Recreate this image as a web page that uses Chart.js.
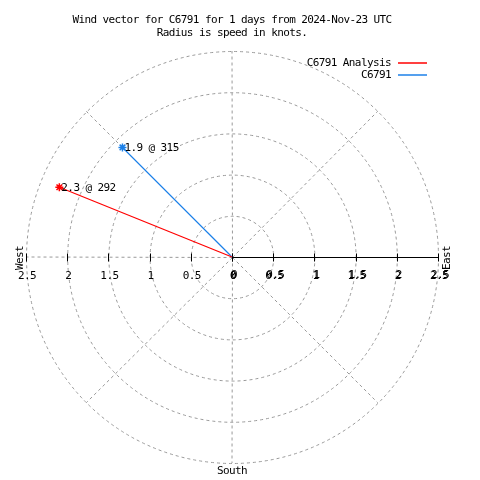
<!DOCTYPE html>
<html>
<head>
<meta charset="utf-8">
<script src="https://cdn.jsdelivr.net/npm/chart.js@4"></script>
<style>
  body { margin: 0; background: #fff; }
  #wrap { width: 480px; height: 480px; }
</style>
</head>
<body>
<div id="wrap"><canvas id="windChart" width="480" height="480"></canvas></div>
<script>
/* DATA */
const seriesNames = ["C6791 Analysis", "C6791"];
const speeds = [2.26, 1.88];        // knots (labels show 1 decimal)
const directions = [292, 315];      // degrees, clockwise from north
const radialTicks = [0, 0.5, 1, 1.5, 2, 2.5];
const titleLines = ["Wind vector for C6791 for 1 days from 2024-Nov-23 UTC", "Radius is speed in knots."];

const seriesColors = ["#ff0000", "#1c80e8"];
const FONT = "11px 'DejaVu Sans Mono', monospace";

/* polar (speed, direction) -> cartesian */
const toXY = function (r, deg) {
  const a = deg * Math.PI / 180;
  return { x: r * Math.sin(a), y: r * Math.cos(a) };
}

const rMax = radialTicks[radialTicks.length - 1];

const datasets = seriesNames.map(function (name, i) {
  return {
    label: name,
    data: [{ x: 0, y: 0 }, toXY(speeds[i], directions[i])],
    showLine: true,
    borderColor: seriesColors[i],
    backgroundColor: seriesColors[i],
    borderWidth: 1.2,
    pointStyle: 'star',
    pointRadius: [0, 4],
    pointBorderWidth: 1.5,
    pointBorderColor: seriesColors[i]
  };
});

const setFont = function (ctx) {
  ctx.font = FONT;
  ctx.letterSpacing = '-0.6px';
  ctx.fillStyle = '#000';
}

/* grid circles, spokes, axis and texts */
const polarPlugin = {
  id: 'polarPlugin',
  beforeDatasetsDraw(chart) {
    const { ctx, scales: { x, y } } = chart;
    const cx = Math.round(x.getPixelForValue(0)) + 0.5;
    const cy = Math.round(y.getPixelForValue(0)) + 0.5;
    const unit = x.getPixelForValue(1) - x.getPixelForValue(0);

    ctx.save();
    ctx.strokeStyle = '#999';
    ctx.lineWidth = 1;
    ctx.setLineDash([3, 3]);
    radialTicks.slice(1).forEach(function (r) {
      ctx.beginPath();
      ctx.arc(cx, cy, r * unit, 0, Math.PI * 2);
      ctx.stroke();
    });
    // spokes every 45 degrees (east half is the solid axis)
    [0, 45, 135, 180, 225, 270, 315].forEach(function (a) {
      const p = toXY(rMax, a);
      ctx.beginPath();
      ctx.moveTo(cx, cy);
      ctx.lineTo(x.getPixelForValue(p.x), y.getPixelForValue(p.y));
      ctx.stroke();
    });
    ctx.setLineDash([]);

    // solid east axis
    ctx.strokeStyle = '#000';
    ctx.beginPath();
    ctx.moveTo(cx, cy);
    ctx.lineTo(Math.round(x.getPixelForValue(rMax)) + 0.5, cy);
    ctx.stroke();

    // tick marks both sides
    radialTicks.forEach(function (r) {
      [r, -r].forEach(function (v) {
        const px = Math.round(x.getPixelForValue(v)) + 0.5;
        ctx.beginPath();
        ctx.moveTo(px, cy - 4);
        ctx.lineTo(px, cy + 4);
        ctx.stroke();
      });
    });

    // tick labels
    setFont(ctx);
    ctx.textAlign = 'center';
    ctx.textBaseline = 'middle';
    radialTicks.forEach(function (r) {
      const pw = x.getPixelForValue(-r);
      const pe = x.getPixelForValue(r);
      ctx.fillText(String(r), pw + 1, cy + 19);
      ctx.fillText(String(r), pe + 1, cy + 19);
      ctx.fillText(String(r), pe + 2, cy + 18);
    });
    ctx.restore();
  },
  afterDatasetsDraw(chart) {
    const { ctx, scales: { x, y } } = chart;
    const cx = x.getPixelForValue(0);
    const cy = y.getPixelForValue(0);
    ctx.save();
    setFont(ctx);
    ctx.textBaseline = 'middle';

    // titles
    ctx.textAlign = 'center';
    ctx.fillText(titleLines[0], cx, 20);
    ctx.fillText(titleLines[1], cx, 33);

    // point labels
    ctx.textAlign = 'left';
    chart.data.datasets.forEach(function (ds, i) {
      const pt = chart.getDatasetMeta(i).data[1];
      ctx.fillText(speeds[i].toFixed(1) + ' @ ' + directions[i], pt.x + 2, pt.y + 1);
    });

    // legend
    ctx.textAlign = 'right';
    seriesNames.forEach(function (name, i) {
      const ly = 63 + i * 12;
      ctx.fillText(name, 391, ly);
      ctx.strokeStyle = seriesColors[i];
      ctx.lineWidth = 1.5;
      ctx.beginPath();
      ctx.moveTo(398, ly);
      ctx.lineTo(427, ly);
      ctx.stroke();
    });

    // compass labels
    ctx.textAlign = 'center';
    ctx.fillText('South', cx, 471);
    [['West', 20], ['East', 447]].forEach(function (lab) {
      ctx.save();
      ctx.translate(lab[1], cy + 1);
      ctx.rotate(-Math.PI / 2);
      ctx.fillText(lab[0], 0, 0);
      ctx.restore();
    });
    ctx.restore();
  }
};

new Chart(document.getElementById('windChart'), {
  type: 'scatter',
  data: { datasets: datasets },
  options: {
    responsive: false,
    animation: false,
    layout: { padding: { left: 26, right: 42, top: 51, bottom: 17 } },
    scales: {
      x: { type: 'linear', min: -rMax, max: rMax, display: false },
      y: { type: 'linear', min: -rMax, max: rMax, display: false }
    },
    plugins: {
      legend: { display: false },
      title: { display: false },
      tooltip: { enabled: false }
    }
  },
  plugins: [polarPlugin]
});
</script>
</body>
</html>
